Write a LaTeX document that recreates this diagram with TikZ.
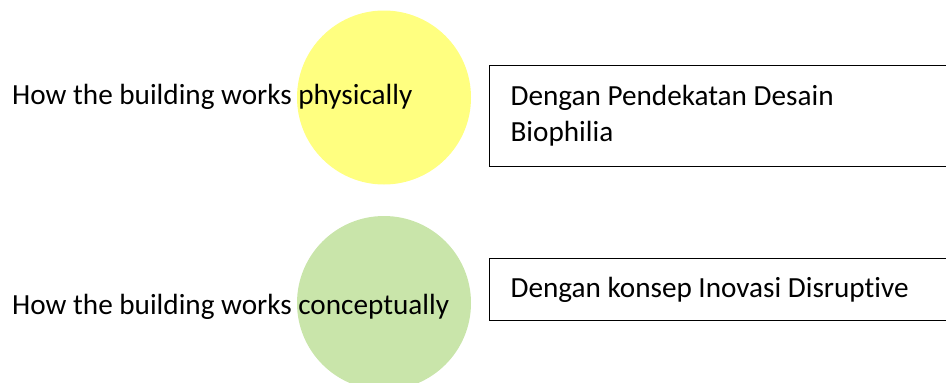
\documentclass[tikz,border=0pt]{standalone}
\usepackage{fontspec}
\setmainfont{Carlito}[Ligatures=NoCommon]
\usepackage{tikz}
\usetikzlibrary{positioning}
\definecolor{ballyellow}{RGB}{255,255,128}
\definecolor{ballgreen}{RGB}{201,229,170}

\begin{document}
\begin{tikzpicture}[x=1pt, y=-1pt,
                    ball/.style={circle,inner sep=0pt,minimum size=174pt},
                    label text/.style={anchor=base west,inner sep=0pt},
                    note box/.style={draw,line width=1.2pt,anchor=north west,
                      align=flush left,text width=438pt,inner xsep=21pt}]
  \useasboundingbox (0,0) rectangle (946,383);
  \fontsize{29.2}{36}\selectfont

  \node[ball,fill=ballyellow] (phys ball) at (384,97.5) {};
  \node[ball,fill=ballgreen]  (conc ball) at (384,303) {};

  \node[label text] (phys) at (12,104) {How the building works physically};
  \node[label text] (conc) at (12,314) {How the building works conceptually};

  \node[note box,minimum height=101pt] (bio) at (489,65)
    {Dengan Pendekatan Desain\\Biophilia};
  \node[note box,minimum height=62pt] (inov) at (489,258)
    {Dengan konsep Inovasi Disruptive};
\end{tikzpicture}
\end{document}
